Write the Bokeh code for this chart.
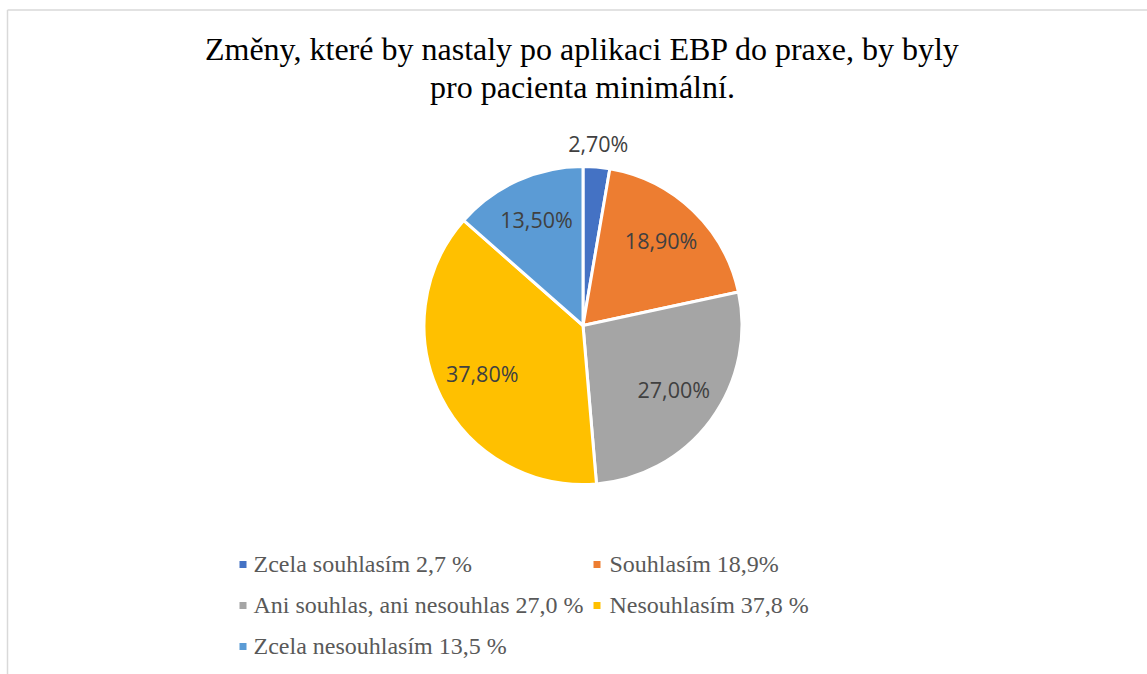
import math
from bokeh.plotting import figure
from bokeh.models import Range1d, ColumnDataSource
from bokeh.core.properties import value
from bokeh.embed import file_html
from bokeh.resources import INLINE

# ---- data ----
title_lines = ["Změny, které by nastaly po aplikaci EBP do praxe, by byly",
               "pro pacienta minimální."]
categories = ["Zcela souhlasím 2,7 %", "Souhlasím 18,9%",
              "Ani souhlas, ani nesouhlas 27,0 %", "Nesouhlasím 37,8 %",
              "Zcela nesouhlasím 13,5 %"]
values = [2.7, 18.9, 27.0, 37.8, 13.5]
data_labels = ["2,70%", "18,90%", "27,00%", "37,80%", "13,50%"]
colors = ["#4472C4", "#ED7D31", "#A5A5A5", "#FFC000", "#5B9BD5"]

# ---- layout (pixel-mapped data space) ----
W, H = 1147, 674
def px(xi):  # image x -> data x
    return xi
def py(yi):  # image y -> data y
    return H - yi

cx, cy, r = px(582.5), py(325), 159

p = figure(width=W, height=H, output_backend="svg", toolbar_location=None,
           x_range=Range1d(0, W), y_range=Range1d(0, H), min_border=0)
p.axis.visible = False
p.grid.visible = False
p.outline_line_color = None
p.background_fill_color = "white"

# chart frame (only left & top edges are visible in the window)
p.segment(x0=[px(7), px(7)], y0=[py(9.5), py(9.5)], x1=[px(7), W + 5], y1=[-5, py(9.5)],
          line_color="#D9D9D9", line_width=1.5)

total = sum(values)
starts, ends, lx, ly = [], [], [], []
cum = 0.0
for i, v in enumerate(values):
    f0 = cum / total
    cum += v
    f1 = cum / total
    starts.append(math.pi / 2 - 2 * math.pi * f0)
    ends.append(math.pi / 2 - 2 * math.pi * f1)
    mid = math.pi / 2 - 2 * math.pi * (f0 + f1) / 2
    d = r + 21 if v / total < 0.05 else 0.71 * r
    lx.append(cx + d * math.cos(mid))
    ly.append(cy + d * math.sin(mid) + 3)

src = ColumnDataSource(dict(start=starts, end=ends, color=colors,
                            lx=lx, ly=ly, lab=data_labels))
p.wedge(x=cx, y=cy, radius=r, start_angle="start", end_angle="end",
        direction="clock", fill_color="color", line_color="white",
        line_width=3, source=src)

p.text(x="lx", y="ly", text="lab", source=src, text_align="center",
       text_baseline="middle", text_font=value("Open Sans"),
       text_font_size="21.5px", text_color="#404040")

# title
p.text(x=[px(582), px(582)], y=[py(48), py(86)], text=title_lines,
       text_align="center", text_baseline="alphabetic",
       text_font=value("Liberation Serif"), text_font_size="32px",
       text_color="#000000")

# legend
col_marker = [px(242.5), px(596.5)]
col_text = [px(253), px(609)]
row_mid = [564, 605, 646]
mx, my, tx, ty = [], [], [], []
for i in range(len(categories)):
    c, rw = i % 2, i // 2
    mx.append(col_marker[c]); my.append(py(row_mid[rw]))
    tx.append(col_text[c]); ty.append(py(row_mid[rw] - 1))
p.rect(x=mx, y=my, width=7, height=7, fill_color=colors, line_color=None)
p.text(x=tx, y=ty, text=categories, text_align="left", text_baseline="middle",
       text_font=value("Liberation Serif"), text_font_size="24px",
       text_color="#595959")

open("out.html", "w").write(file_html(p, INLINE))
